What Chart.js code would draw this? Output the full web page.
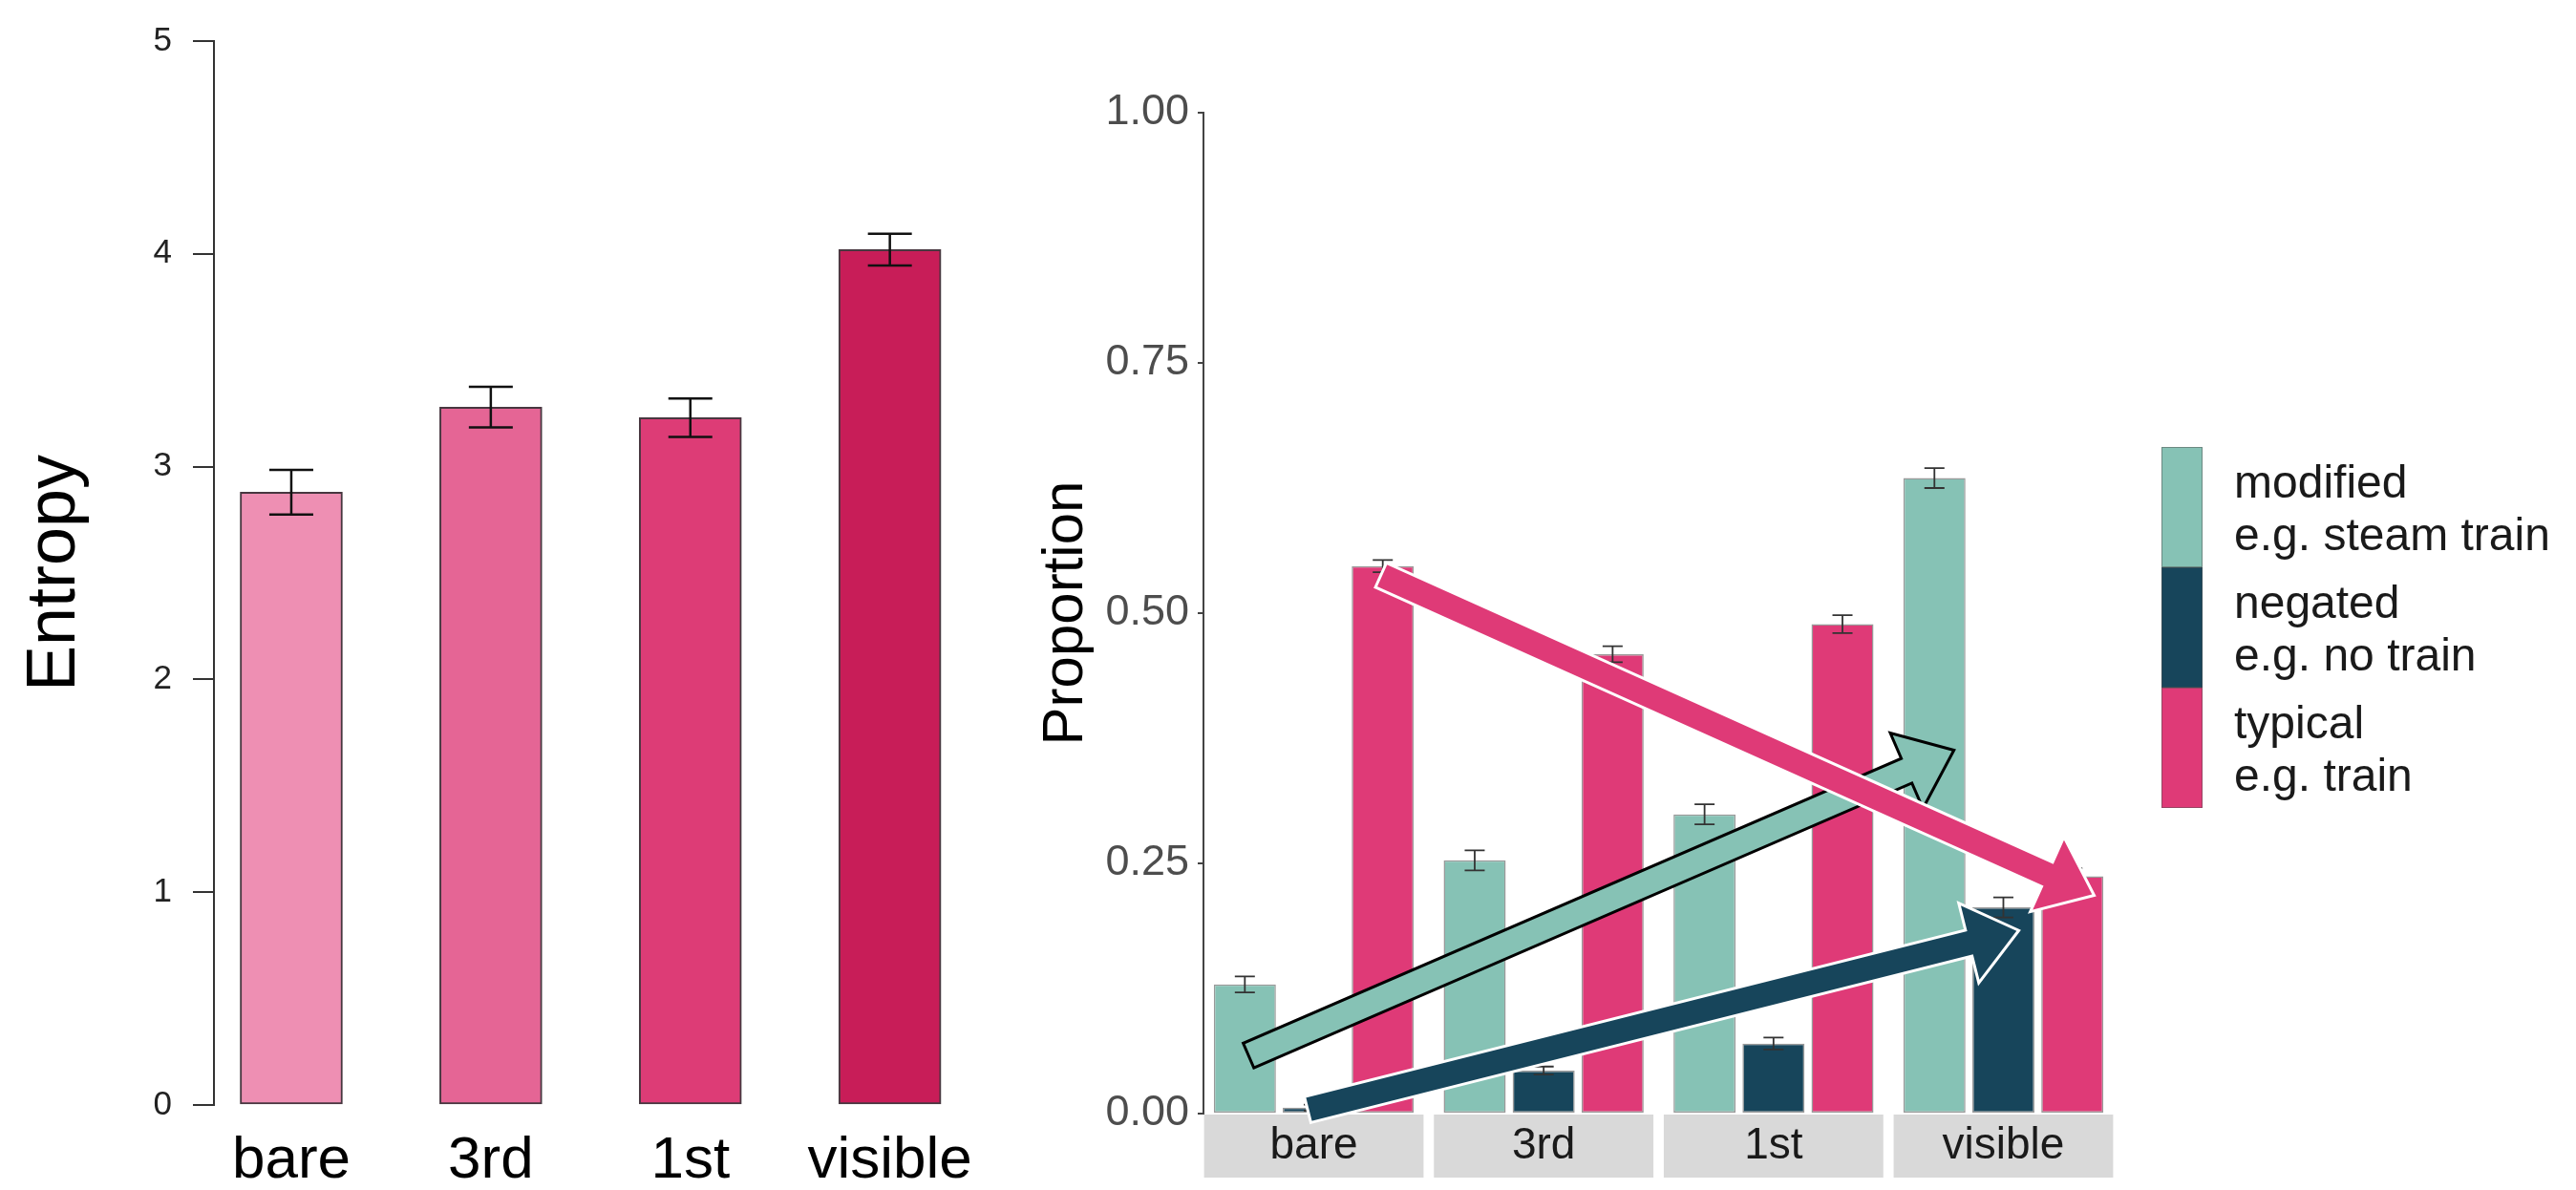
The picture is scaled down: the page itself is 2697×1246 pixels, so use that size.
<!DOCTYPE html>
<html>
<head>
<meta charset="utf-8">
<script src="https://cdn.jsdelivr.net/npm/chart.js@4.4.1/dist/chart.umd.min.js"></script>
<style>
  html, body { margin: 0; padding: 0; background: #fff; }
  body { width: 2697px; height: 1246px; position: relative; overflow: hidden; }
  #entropyChart { position: absolute; left: 0; top: 0; }
  #proportionChart { position: absolute; left: 1080px; top: 0; }
</style>
</head>
<body>
<canvas id="entropyChart" width="1080" height="1246"></canvas>
<canvas id="proportionChart" width="1617" height="1246"></canvas>
<script>
// left panel: entropy per condition
const entropyLabels = ['bare', '3rd', '1st', 'visible']
const entropyValues = [2.88, 3.28, 3.23, 4.02]
const entropyErrors = [0.105, 0.095, 0.09, 0.075]
const entropyTicks = [0, 1, 2, 3, 4, 5]

// right panel: proportion of each response type per condition
const conditions = ['bare', '3rd', '1st', 'visible']
const seriesNames = ['modified', 'negated', 'typical']
const seriesExamples = ['e.g. steam train', 'e.g. no train', 'e.g. train']
const modifiedValues = [0.129, 0.253, 0.299, 0.635]
const modifiedErrors = [0.008, 0.01, 0.01, 0.01]
const negatedValues = [0.006, 0.043, 0.070, 0.206]
const negatedErrors = [0.003, 0.004, 0.006, 0.01]
const typicalValues = [0.547, 0.459, 0.489, 0.237]
const typicalErrors = [0.006, 0.008, 0.009, 0.008]
const proportionTicks = [0, 0.25, 0.5, 0.75, 1]

// arrows drawn over the right panel, in data units (condition index, proportion)
const trendArrows = [
  { from: [-0.284, 0.058], to: [2.785, 0.363], fill: '#86C2B5', outline: '#000000' },
  { from: [0.292, 0.538], to: [3.395, 0.218], fill: '#DF3A77', outline: '#ffffff' },
  { from: [-0.027, 0.004], to: [3.067, 0.183], fill: '#17455B', outline: '#ffffff' }
]

const FONT = '"Liberation Sans", Arial, sans-serif'
const entropyColors = ['#EE8FB3', '#E56595', '#DD3C76', '#C81D58']
const seriesColors = ['#86C2B5', '#17455B', '#DF3A77']

const errorBarPlugin = {
  id: 'errorBars',
  afterDatasetsDraw(chart, args, opts) {
    const { ctx } = chart
    const yScale = chart.scales.y
    chart.data.datasets.forEach((ds, di) => {
      const meta = chart.getDatasetMeta(di)
      meta.data.forEach((bar, i) => {
        const v = ds.data[i].y
        const e = ds.errors[i]
        const top = yScale.getPixelForValue(v + e)
        const bot = yScale.getPixelForValue(v - e)
        ctx.save()
        ctx.strokeStyle = opts.color
        ctx.lineWidth = opts.lineWidth
        ctx.beginPath()
        ctx.moveTo(bar.x, top)
        ctx.lineTo(bar.x, bot)
        ctx.moveTo(bar.x - opts.cap / 2, top)
        ctx.lineTo(bar.x + opts.cap / 2, top)
        ctx.moveTo(bar.x - opts.cap / 2, bot)
        ctx.lineTo(bar.x + opts.cap / 2, bot)
        ctx.stroke()
        ctx.restore()
      })
    })
  }
}

const stripPlugin = {
  id: 'strips',
  beforeDraw(chart) {
    const { ctx, chartArea } = chart
    const x = chart.scales.x
    const unit = x.getPixelForValue(1) - x.getPixelForValue(0)
    ctx.save()
    ctx.fillStyle = '#d9d9d9'
    conditions.forEach((c, i) => {
      const cx = x.getPixelForValue(i)
      ctx.fillRect(cx - unit * 0.4775, chartArea.bottom + 1, unit * 0.955, 66)
    })
    ctx.restore()
  }
}

const drawArrow = (ctx, p0, p1, fill, outline) => {
  const dx = p1[0] - p0[0], dy = p1[1] - p0[1]
  const len = Math.hypot(dx, dy)
  const ux = dx / len, uy = dy / len
  const nx = -uy, ny = ux
  const hw = 14, hh = 43, hl = 54
  const neck = [p1[0] - ux * hl, p1[1] - uy * hl]
  ctx.beginPath()
  ctx.moveTo(p0[0] + nx * hw, p0[1] + ny * hw)
  ctx.lineTo(neck[0] + nx * hw, neck[1] + ny * hw)
  ctx.lineTo(neck[0] + nx * hh, neck[1] + ny * hh)
  ctx.lineTo(p1[0], p1[1])
  ctx.lineTo(neck[0] - nx * hh, neck[1] - ny * hh)
  ctx.lineTo(neck[0] - nx * hw, neck[1] - ny * hw)
  ctx.lineTo(p0[0] - nx * hw, p0[1] - ny * hw)
  ctx.closePath()
  ctx.fillStyle = fill
  ctx.fill()
  ctx.lineWidth = 3
  ctx.lineJoin = 'miter'
  ctx.strokeStyle = outline
  ctx.stroke()
}

const arrowPlugin = {
  id: 'trendArrows',
  afterDraw(chart) {
    const { ctx } = chart
    const x = chart.scales.x, y = chart.scales.y
    ctx.save()
    trendArrows.forEach(a => {
      const p0 = [x.getPixelForValue(a.from[0]), y.getPixelForValue(a.from[1])]
      const p1 = [x.getPixelForValue(a.to[0]), y.getPixelForValue(a.to[1])]
      drawArrow(ctx, p0, p1, a.fill, a.outline)
    })
    ctx.restore()
  }
}

const legendPlugin = {
  id: 'stackedLegend',
  afterDraw(chart) {
    const { ctx, chartArea } = chart
    const keyX = chartArea.right + 50
    const keyW = 43, keyH = 126, top = 468
    ctx.save()
    seriesNames.forEach((name, i) => {
      const ky = top + i * keyH
      ctx.fillStyle = seriesColors[i]
      ctx.fillRect(keyX, ky, keyW, keyH)
      ctx.strokeStyle = 'rgba(80,80,80,0.5)'
      ctx.lineWidth = 1
      ctx.strokeRect(keyX + 0.5, ky + 0.5, keyW - 1, keyH - 1)
      ctx.fillStyle = '#1a1a1a'
      ctx.font = `48px ${FONT}`
      ctx.textBaseline = 'alphabetic'
      ctx.fillText(name, keyX + 76, ky + 53)
      ctx.fillText(seriesExamples[i], keyX + 76, ky + 108)
    })
    ctx.restore()
  }
}

new Chart(document.getElementById('entropyChart'), {
  type: 'bar',
  data: {
    datasets: [{
      data: entropyValues.map((v, i) => ({ x: i, y: v })),
      errors: entropyErrors,
      backgroundColor: entropyColors,
      borderColor: 'rgba(40,20,30,0.85)',
      borderWidth: 2,
      borderSkipped: false,
      barThickness: 107
    }]
  },
  options: {
    responsive: false,
    devicePixelRatio: 1,
    animation: false,
    layout: { padding: { top: 24, right: 23, left: 0, bottom: 0 } },
    plugins: {
      legend: { display: false },
      tooltip: { enabled: false },
      errorBars: { color: '#111', lineWidth: 2.5, cap: 46 }
    },
    scales: {
      x: {
        type: 'linear',
        offset: false,
        bounds: 'data',
        min: -0.3876,
        max: 3.6,
        afterBuildTicks: (scale) => { scale.ticks = entropyLabels.map((l, i) => ({ value: i })) },
        afterFit: (scale) => { scale.height = 89 },
        grid: { display: false, drawTicks: false, offset: false },
        border: { display: false },
        ticks: {
          autoSkip: false,
          maxRotation: 0,
          padding: 22,
          color: '#000',
          font: { family: FONT, size: 62 },
          callback: (v) => entropyLabels[v]
        }
      },
      y: {
        min: 0,
        max: 5,
        afterBuildTicks: (scale) => { scale.ticks = entropyTicks.map(v => ({ value: v })) },
        afterFit: (scale) => { scale.width = 224 },
        grid: { drawOnChartArea: false, drawTicks: true, tickLength: 22, color: '#333', lineWidth: 2 },
        border: { display: true, color: '#333', width: 2 },
        ticks: { padding: 22, color: '#222', font: { family: FONT, size: 35 } },
        title: {
          display: true,
          text: 'Entropy',
          color: '#000',
          font: { family: FONT, size: 72 },
          padding: { top: 15, bottom: 0 }
        }
      }
    }
  },
  plugins: [errorBarPlugin]
})

const seriesValues = [modifiedValues, negatedValues, typicalValues]
const seriesErrors = [modifiedErrors, negatedErrors, typicalErrors]

new Chart(document.getElementById('proportionChart'), {
  type: 'bar',
  data: {
    datasets: seriesNames.map((name, si) => ({
      label: name,
      data: seriesValues[si].map((v, i) => ({ x: i, y: v })),
      errors: seriesErrors[si],
      backgroundColor: seriesColors[si],
      borderColor: 'rgba(70,70,70,0.55)',
      borderWidth: 1.5,
      borderSkipped: false,
      categoryPercentage: 0.9,
      barPercentage: 0.9
    }))
  },
  options: {
    responsive: false,
    devicePixelRatio: 1,
    animation: false,
    layout: { padding: { top: 118, right: 484, left: 0, bottom: 0 } },
    plugins: {
      legend: { display: false },
      tooltip: { enabled: false },
      errorBars: { color: '#333', lineWidth: 1.8, cap: 21 }
    },
    scales: {
      x: {
        type: 'linear',
        offset: false,
        bounds: 'data',
        min: -0.48,
        max: 3.48,
        afterBuildTicks: (scale) => { scale.ticks = conditions.map((c, i) => ({ value: i })) },
        afterFit: (scale) => { scale.height = 80 },
        grid: { display: false, drawTicks: false, offset: false },
        border: { display: false },
        ticks: {
          autoSkip: false,
          maxRotation: 0,
          padding: 7,
          color: '#1a1a1a',
          font: { family: FONT, size: 46 },
          callback: (v) => conditions[v]
        }
      },
      y: {
        min: 0,
        max: 1,
        afterBuildTicks: (scale) => { scale.ticks = proportionTicks.map(v => ({ value: v })) },
        afterFit: (scale) => { scale.width = 180 },
        grid: { drawOnChartArea: false, drawTicks: true, tickLength: 6, color: '#444', lineWidth: 2 },
        border: { display: true, color: '#444', width: 2 },
        ticks: {
          padding: 9,
          color: '#4d4d4d',
          font: { family: FONT, size: 45 },
          callback: (v) => v.toFixed(2)
        },
        title: {
          display: true,
          text: 'Proportion',
          color: '#000',
          font: { family: FONT, size: 60 },
          padding: { top: 0, bottom: 0 }
        }
      }
    }
  },
  plugins: [stripPlugin, errorBarPlugin, arrowPlugin, legendPlugin]
})
</script>
</body>
</html>
